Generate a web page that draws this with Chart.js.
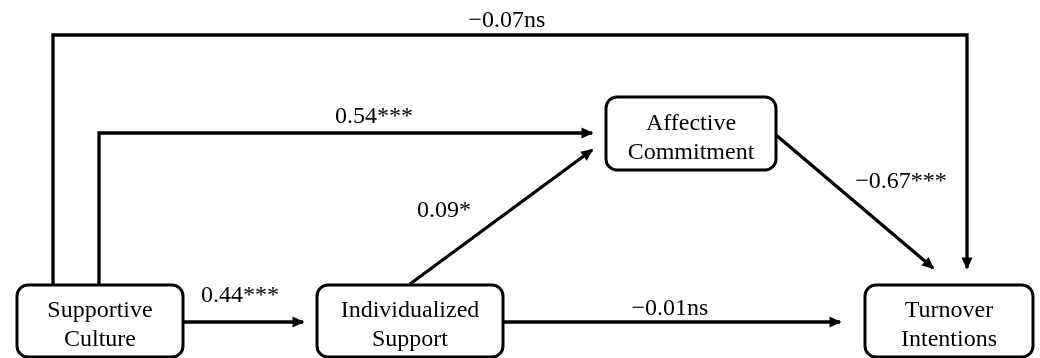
<!DOCTYPE html>
<html>
<head>
<meta charset="utf-8">
<script src="https://cdn.jsdelivr.net/npm/chart.js@4/dist/chart.umd.min.js"></script>
<style>
  html, body { margin: 0; padding: 0; background: #ffffff; }
  #wrap { width: 1040px; height: 358px; position: relative; }
</style>
</head>
<body>
<div id="wrap"><canvas id="c"></canvas></div>
<script>
// Constructs in the path model
const nodeNames = [
  ['Supportive', 'Culture'],
  ['Individualized', 'Support'],
  ['Affective', 'Commitment'],
  ['Turnover', 'Intentions']
];

// Paths: from-node index, to-node index, standardized coefficient, significance
const pathFrom = [0, 0, 1, 0, 1, 2];
const pathTo = [3, 2, 2, 1, 3, 3];
const pathCoef = [-0.07, 0.54, 0.09, 0.44, -0.01, -0.67];
const pathSig = ['ns', '***', '*', '***', 'ns', '***'];

// Diagram layout (drawing units: x 0..1040, y 0..358 from the top)
const layout = {
  nodes: [
    { cx: 100, cy: 321, w: 166, h: 72 },
    { cx: 410, cy: 321, w: 186, h: 72 },
    { cx: 691, cy: 133.5, w: 170, h: 73 },
    { cx: 949, cy: 321, w: 168, h: 72 }
  ],
  routes: [
    [[53, 285], [53, 35], [967, 35], [967, 268]],
    [[99, 285], [99, 133], [592, 133]],
    [[410, 284], [592, 150]],
    [[183, 322], [303, 322]],
    [[503, 322], [840, 322]],
    [[776, 135], [933, 268]]
  ],
  labels: [
    [507, 27], [374, 123], [444, 217], [240, 302], [670, 315], [901, 188]
  ]
};

const FONT = '24px "Liberation Serif", "Times New Roman", serif';

function coefText(v, sig) {
  const s = Math.abs(v).toFixed(2);
  return (v < 0 ? '\u2212' : '') + s + sig;
}

const datasets = pathCoef.map((v, i) => ({
  label: coefText(v, pathSig[i]),
  data: layout.routes[i].map(p => ({ x: p[0], y: p[1] })),
  borderColor: '#000000',
  borderWidth: 3.3,
  pointRadius: 0,
  tension: 0,
  fill: false,
  borderCapStyle: 'butt',
  borderJoinStyle: 'miter',
  clip: false
}));

const diagramPlugin = {
  id: 'pathDiagram',
  afterDatasetsDraw(chart) {
    const ctx = chart.ctx;
    const xs = chart.scales.x, ys = chart.scales.y;
    const px = v => xs.getPixelForValue(v);
    const py = v => ys.getPixelForValue(v);
    ctx.save();

    // arrowheads at the end of each path
    ctx.fillStyle = '#000000';
    chart.data.datasets.forEach(ds => {
      const n = ds.data.length;
      const a = ds.data[n - 2], b = ds.data[n - 1];
      const x1 = px(a.x), y1 = py(a.y), x2 = px(b.x), y2 = py(b.y);
      const ang = Math.atan2(y2 - y1, x2 - x1);
      const len = 12, half = 5.5;
      const tx = x2 + Math.cos(ang) * 1.5, ty = y2 + Math.sin(ang) * 1.5;
      ctx.beginPath();
      ctx.moveTo(tx, ty);
      ctx.lineTo(tx - len * Math.cos(ang) + half * Math.sin(ang), ty - len * Math.sin(ang) - half * Math.cos(ang));
      ctx.lineTo(tx - len * Math.cos(ang) - half * Math.sin(ang), ty - len * Math.sin(ang) + half * Math.cos(ang));
      ctx.closePath();
      ctx.fill();
    });

    // construct boxes
    ctx.lineWidth = 3;
    ctx.strokeStyle = '#000000';
    ctx.font = FONT;
    ctx.textAlign = 'center';
    ctx.textBaseline = 'alphabetic';
    layout.nodes.forEach((nd, i) => {
      const l = px(nd.cx - nd.w / 2), r = px(nd.cx + nd.w / 2);
      const t = py(nd.cy - nd.h / 2), btm = py(nd.cy + nd.h / 2);
      ctx.fillStyle = '#ffffff';
      ctx.beginPath();
      ctx.roundRect(l, t, r - l, btm - t, 11);
      ctx.fill();
      ctx.stroke();
      ctx.fillStyle = '#000000';
      const cx = px(nd.cx);
      ctx.fillText(nodeNames[i][0], cx, py(nd.cy - 4));
      ctx.fillText(nodeNames[i][1], cx, py(nd.cy + 25));
    });

    // coefficient labels
    chart.data.datasets.forEach((ds, i) => {
      const p = layout.labels[i];
      ctx.fillText(ds.label, px(p[0]), py(p[1]));
    });
    ctx.restore();
  }
};

new Chart(document.getElementById('c'), {
  type: 'line',
  data: { datasets },
  options: {
    responsive: true,
    maintainAspectRatio: false,
    animation: false,
    layout: { padding: 0 },
    plugins: { legend: { display: false }, tooltip: { enabled: false } },
    events: [],
    scales: {
      x: { type: 'linear', min: 0, max: 1040, display: false },
      y: { type: 'linear', min: 0, max: 358, reverse: true, display: false }
    }
  },
  plugins: [diagramPlugin]
});
</script>
</body>
</html>
